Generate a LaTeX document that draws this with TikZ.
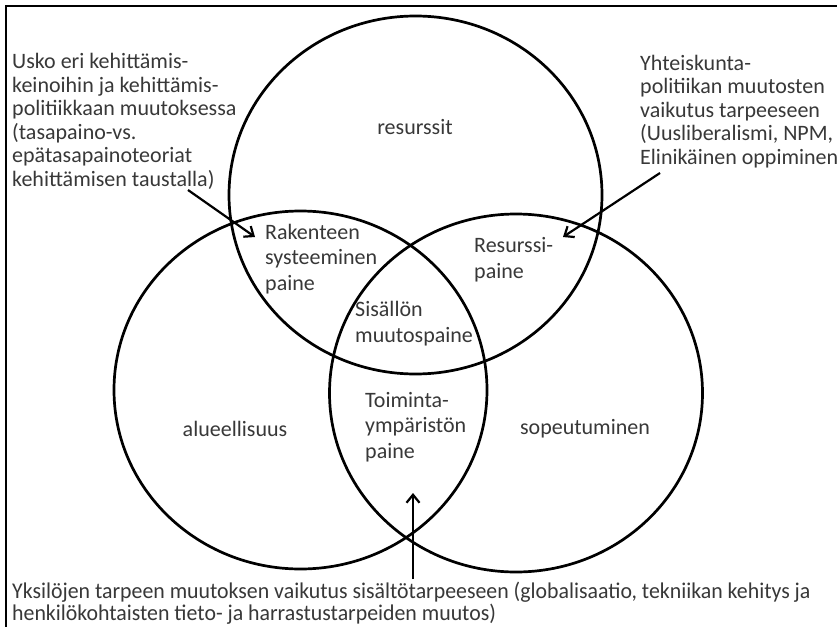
\documentclass[tikz,border=0pt]{standalone}
\usepackage{fontspec}
\setmainfont{Carlito}
\newfontfamily\narrowfont[FakeStretch=0.97]{Carlito}
\usetikzlibrary{arrows.meta,shapes.geometric}
\begin{document}
\begin{tikzpicture}[x=1pt,y=-1pt,
  ring/.style={draw=black, line width=2.7pt, ellipse, minimum width=373pt, minimum height=358pt, inner sep=0pt},
  lbl/.style={font=\fontsize{22}{25.5}\selectfont, text=black!78, inner sep=0pt, align=left},
  note/.style={font=\fontsize{22}{23.5}\selectfont, text=black!78, align=left, inner sep=0pt, anchor=base west},
  pointer/.style={line width=2.2pt, -{Straight Barb[length=8pt,width=13pt]}},
]
\useasboundingbox (0,0) rectangle (837,626);
\fill[white] (0,0) rectangle (837,626);
% outer frame, cut off at the right and bottom edges
\draw[line width=2.7pt] (6,640) -- (6,6) -- (850,6);

% the three circles
\node[ring] (res) at (415.5,195) {};
\node[ring] (alu) at (300.5,390) {};
\node[ring] (sop) at (516,393) {};

% circle and overlap labels (base = baseline of the last line)
\node[lbl] (lres) at (415,127) {resurssit};
\node[lbl] (lalu) at (235,429) {alueellisuus};
\node[lbl] (lsop) at (585,429) {sopeutuminen};
\node[lbl, anchor=base west] (lrak) at (265,290) {Rakenteen\\systeeminen\\paine};
\node[lbl, anchor=base west] (lrp) at (474,278) {Resurssi-\\paine};
\node[lbl, anchor=base west] (lsis) at (355,342) {Sisällön\\muutospaine};
\node[lbl, anchor=base west] (ltoi) at (365,458) {Toiminta-\\ympäristön\\paine};

% notes
\node[note] (nleft) at (12,186) {Usko eri kehittämis-\\keinoihin ja kehittämis-\\politiikkaan muutoksessa\\(tasapaino-vs.\\epätasapainoteoriat\\kehittämisen taustalla)};
\node[note] (nright) at (640,164) {Yhteiskunta-\\politiikan muutosten\\vaikutus tarpeeseen\\(Uusliberalismi, NPM,\\Elinikäinen oppiminen};
\node[note, font=\narrowfont\fontsize{22.5}{22}\selectfont] (nbottom) at (12,620) {Yksilöjen tarpeen muutoksen vaikutus sisältötarpeeseen (globalisaatio, tekniikan kehitys ja\\henkilökohtaisten tieto- ja harrastustarpeiden muutos)};

% pointers
\coordinate (sl) at (188,190);
\coordinate (tl) at (255,237);
\coordinate (sr) at (660,173);
\coordinate (tr) at (563,237);
\coordinate (sb) at (413,579);
\coordinate (tb) at (413,493);
\draw[pointer] (sl) -- (tl);
\draw[pointer] (sr) -- (tr);
\draw[pointer] (sb) -- (tb);
\end{tikzpicture}
\end{document}
